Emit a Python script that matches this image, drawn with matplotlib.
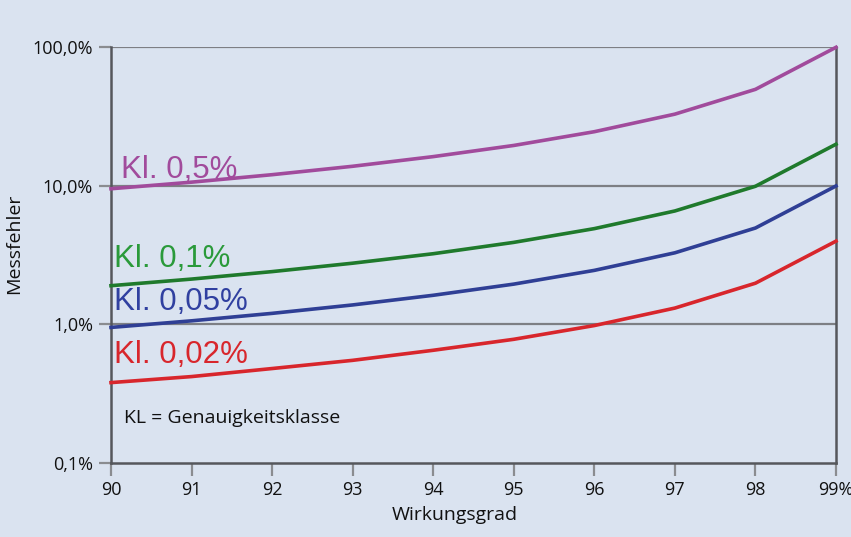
import matplotlib
matplotlib.use("Agg")
import matplotlib.pyplot as plt
import matplotlib.ticker as plticker

plt.rcParams['font.family'] = ['Open Sans', 'DejaVu Sans']

# Wirkungsgrad in %
wirkungsgrad = [90, 91, 92, 93, 94, 95, 96, 97, 98, 99]

# Messfehler in % je Genauigkeitsklasse
kl_05 = [9.5, 10.6, 12.0, 13.8, 16.2, 19.5, 24.5, 32.8, 49.5, 99.5]
kl_01 = [1.9, 2.12, 2.4, 2.76, 3.23, 3.9, 4.9, 6.57, 9.9, 19.9]
kl_005 = [0.95, 1.06, 1.2, 1.38, 1.62, 1.95, 2.45, 3.28, 4.95, 9.95]
kl_002 = [0.38, 0.42, 0.48, 0.55, 0.65, 0.78, 0.98, 1.31, 1.98, 3.98]

x_labels = ['90', '91', '92', '93', '94', '95', '96', '97', '98', '99%']
y_ticks = [0.1, 1, 10, 100]
y_labels = ['0,1%', '1,0%', '10,0%', '100,0%']

bg = '#dae3f0'
fig = plt.figure(figsize=(8.51, 5.37), dpi=100, facecolor=bg)
ax = fig.add_axes([111 / 851, 1 - 463 / 537, 725 / 851, 416 / 537])
ax.set_facecolor(bg)

ax.set_yscale('log')
ax.set_xlim(90, 99)
ax.set_ylim(0.1, 100)

# Gitterlinien
for yv in [1, 10, 100]:
    ax.axhline(yv, color='#7d7f84', lw=1.6, zorder=1)

lw = 2.6
ax.plot(wirkungsgrad, kl_05, color='#a14b9c', lw=lw, zorder=3, clip_on=False)
ax.plot(wirkungsgrad, kl_01, color='#1f7a2c', lw=lw, zorder=3, clip_on=False)
ax.plot(wirkungsgrad, kl_005, color='#2f3f95', lw=lw, zorder=3, clip_on=False)
ax.plot(wirkungsgrad, kl_002, color='#d8262c', lw=lw, zorder=3, clip_on=False)

lab_font = ['Liberation Sans', 'DejaVu Sans']
ax.text(90.13, 11.4, 'Kl. 0,5%', color='#a14b9c', fontsize=22.5, family=lab_font, va='baseline')
ax.text(90.04, 2.57, 'Kl. 0,1%', color='#2a9a3a', fontsize=22.5, family=lab_font, va='baseline')
ax.text(90.04, 1.26, 'Kl. 0,05%', color='#3040a0', fontsize=22.5, family=lab_font, va='baseline')
ax.text(90.04, 0.524, 'Kl. 0,02%', color='#d8262c', fontsize=22.5, family=lab_font, va='baseline')
ax.text(90.16, 0.194, 'KL = Genauigkeitsklasse', color='#111111', fontsize=14, va='baseline')

# Achsen
for side in ['left', 'bottom', 'right']:
    ax.spines[side].set_color('#55575c')
    ax.spines[side].set_linewidth(1.8)
ax.spines['top'].set_visible(False)

ax.set_xticks(wirkungsgrad)
ax.set_xticklabels(x_labels)
ax.set_yticks(y_ticks)
ax.set_yticklabels(y_labels)
ax.yaxis.set_minor_locator(plticker.NullLocator())
ax.tick_params(axis='both', direction='out', length=9, width=1.6, color='#8a8c90',
               labelsize=13, labelcolor='#111111', pad=4)

ax.set_xlabel('Wirkungsgrad', fontsize=14, color='#111111', va='center')
ax.set_ylabel('Messfehler', fontsize=14, color='#111111', va='center')
ax.xaxis.set_label_coords(0.4745, -0.125)
ax.yaxis.set_label_coords(-0.133, 0.526)

plt.savefig('out.png', dpi=100, facecolor=bg)
